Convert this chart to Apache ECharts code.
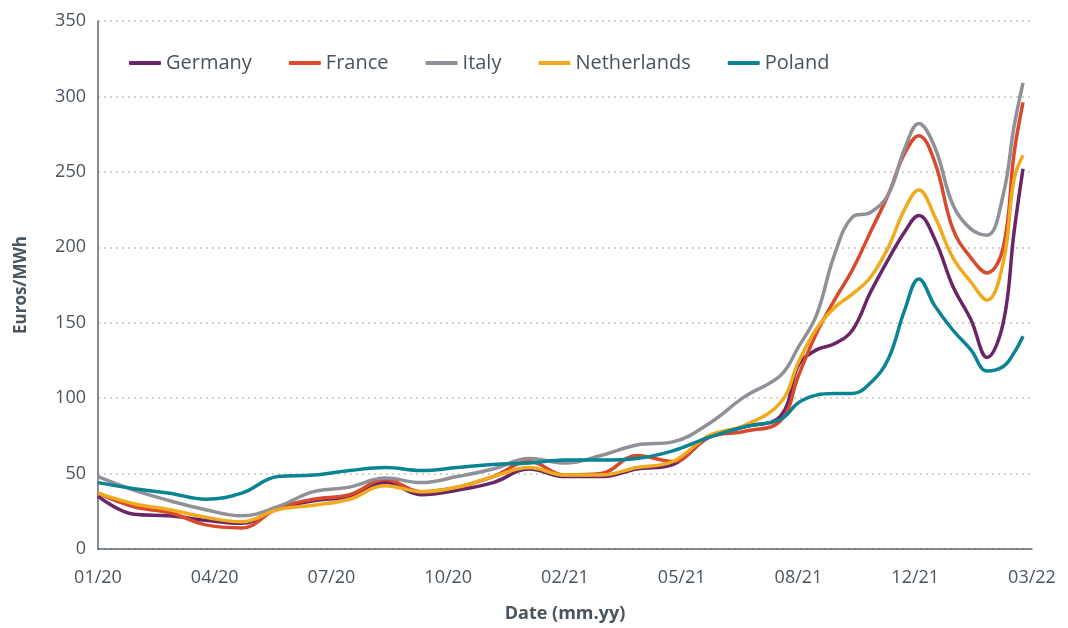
<!DOCTYPE html>
<html>
<head>
<meta charset="utf-8">
<script src="https://cdn.jsdelivr.net/npm/echarts@6/dist/echarts.min.js"></script>
<style>
html, body { margin: 0; padding: 0; background: #fff; }
#chart { width: 1068px; height: 628px; }
</style>
</head>
<body>
<div id="chart"></div>
<script>
// months since 01/20 (finer steps where prices move fast)
var months = [0, 1, 2, 3, 4, 5, 6, 7, 8, 9, 10, 11, 12, 13, 14, 15, 16, 17, 18, 19,
    19.5, 20, 20.5, 21, 21.5, 22, 22.45, 22.85, 23.3, 23.8, 24.3, 24.75, 25.2, 25.5, 25.75];
var tickLabels = ['01/20', '04/20', '07/20', '10/20', '02/21', '05/21', '08/21', '12/21', '03/22'];

var germany = [35, 23, 22, 19, 17, 27, 32, 35, 44, 36, 39, 44, 53, 48, 48, 53, 56, 74, 81, 88,
    122, 132, 136, 145, 170, 192, 210, 221, 205, 174, 152, 127, 150, 210, 252];
var france = [37, 28, 24, 16, 14, 27, 33, 36, 46, 38, 41, 48, 58, 49, 50, 62, 58, 74, 78, 85,
    115, 143, 165, 185, 210, 235, 262, 274, 256, 212, 193, 183, 200, 262, 296];
var italy = [48, 39, 32, 26, 22, 28, 38, 41, 47, 44, 48, 53, 60, 57, 62, 69, 71, 83, 101, 115,
    134, 155, 195, 220, 223, 235, 265, 282, 266, 228, 212, 208, 235, 280, 309];
var netherlands = [37, 30, 26, 21, 18, 26, 29, 33, 42, 38, 41, 48, 54, 49, 49, 54, 58, 75, 82, 97,
    124, 146, 160, 169, 180, 200, 225, 238, 220, 193, 177, 165, 190, 245, 261];
var poland = [44, 40, 37, 33, 37, 48, 49, 52, 54, 52, 54, 56, 57, 59, 59, 60, 65, 74, 81, 86,
    97, 102, 103, 103, 110, 126, 158, 179, 161, 145, 132, 118, 121, 130, 141];

var names = ['Germany', 'France', 'Italy', 'Netherlands', 'Poland'];
var values = [germany, france, italy, netherlands, poland];
var colors = ['#6a2569', '#d9492b', '#8f9098', '#f0aa1d', '#0a8392'];

function pairs(arr) {
    return arr.map(function (v, i) { return [months[i], v]; });
}

var textColor = '#4a545e';
var font = 'Open Sans';

var chart = echarts.init(document.getElementById('chart'));
var option = {
    animation: false,
    color: colors,
    textStyle: { fontFamily: font },
    grid: { left: 98, right: 36, top: 21, bottom: 79 },
    legend: {
        data: names,
        left: 124,
        top: 48,
        icon: 'roundRect',
        itemWidth: 32,
        itemHeight: 4,
        itemGap: 37,
        textStyle: { color: textColor, fontSize: 20, fontFamily: font }
    },
    xAxis: {
        type: 'value',
        min: 0,
        max: 26,
        interval: 3.25,
        name: 'Date (mm.yy)',
        nameLocation: 'middle',
        nameGap: 56,
        nameTextStyle: { color: textColor, fontSize: 18, fontWeight: 'bold', fontFamily: font },
        axisLine: { show: true, lineStyle: { color: '#5c6670', width: 1.5 } },
        axisTick: { show: false },
        splitLine: { show: false },
        axisLabel: {
            color: textColor,
            fontSize: 18,
            margin: 20,
            showMinLabel: true,
            showMaxLabel: true,
            formatter: function (v) { return tickLabels[Math.round(v / 3.25)]; }
        }
    },
    yAxis: {
        type: 'value',
        min: 0,
        max: 350,
        interval: 50,
        name: 'Euros/MWh',
        nameLocation: 'middle',
        nameGap: 68,
        nameTextStyle: { color: textColor, fontSize: 17, fontWeight: 'bold', fontFamily: font },
        axisLine: { show: true, lineStyle: { color: '#5c6670', width: 1.5 } },
        axisTick: { show: false },
        axisLabel: { color: textColor, fontSize: 18, margin: 12 },
        splitLine: { lineStyle: { color: '#c4c4c4', type: [2, 4], width: 1.5 } }
    },
    series: names.map(function (n, i) {
        return {
            name: n,
            type: 'line',
            data: pairs(values[i]),
            smooth: 0.4,
            showSymbol: false,
            lineStyle: { width: 3.5, color: colors[i] },
            itemStyle: { color: colors[i] }
        };
    })
};
chart.setOption(option);
</script>
</body>
</html>
